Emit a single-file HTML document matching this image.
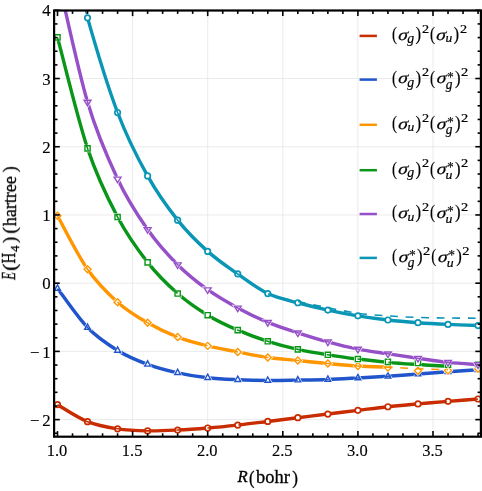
<!DOCTYPE html><html><head><meta charset="utf-8"><style>html,body{margin:0;padding:0;background:#fff}</style></head><body><div style="will-change:transform;width:482px;height:491px"><svg width="482" height="491" viewBox="0 0 482 491" style="display:block"><rect width="482" height="491" fill="#fff"/><defs><clipPath id="cp"><rect x="54.1" y="10.5" width="426.8" height="426.2"/></clipPath><mask id="tm"><rect width="482" height="491" fill="#fff"/></mask></defs><g stroke="#e2e2e2" stroke-width="0.7" fill="none"><line x1="132.60" y1="10.5" x2="132.60" y2="436.7"/><line x1="207.70" y1="10.5" x2="207.70" y2="436.7"/><line x1="282.80" y1="10.5" x2="282.80" y2="436.7"/><line x1="357.90" y1="10.5" x2="357.90" y2="436.7"/><line x1="433.00" y1="10.5" x2="433.00" y2="436.7"/><line x1="54.1" y1="10.30" x2="480.9" y2="10.30"/><line x1="54.1" y1="78.52" x2="480.9" y2="78.52"/><line x1="54.1" y1="146.74" x2="480.9" y2="146.74"/><line x1="54.1" y1="214.96" x2="480.9" y2="214.96"/><line x1="54.1" y1="283.18" x2="480.9" y2="283.18"/><line x1="54.1" y1="351.40" x2="480.9" y2="351.40"/><line x1="54.1" y1="419.62" x2="480.9" y2="419.62"/></g><g clip-path="url(#cp)" fill="none" stroke-linejoin="round"><path d="M57.50 404.68 C62.51 407.51 77.53 417.64 87.54 421.67 C97.55 425.69 107.57 427.29 117.58 428.83 C127.59 430.36 137.61 430.67 147.62 430.88 C157.63 431.08 167.65 430.54 177.66 430.06 C187.67 429.58 197.69 428.84 207.70 428.01 C217.71 427.18 227.73 426.17 237.74 425.08 C247.75 423.99 257.77 422.69 267.78 421.46 C277.79 420.23 287.81 418.95 297.82 417.71 C307.83 416.47 317.85 415.25 327.86 414.03 C337.87 412.80 347.89 411.56 357.90 410.34 C367.91 409.13 377.93 407.80 387.94 406.73 C397.95 405.66 407.97 404.83 417.98 403.93 C427.99 403.03 438.01 402.16 448.02 401.34 C458.03 400.52 473.05 399.40 478.06 399.02" stroke="#c82c00" stroke-width="3.4"/><circle cx="57.50" cy="404.68" r="2.75" fill="#fff" stroke="#c82c00" stroke-width="1.7"/><circle cx="87.54" cy="421.67" r="2.75" fill="#fff" stroke="#c82c00" stroke-width="1.7"/><circle cx="117.58" cy="428.83" r="2.75" fill="#fff" stroke="#c82c00" stroke-width="1.7"/><circle cx="147.62" cy="430.88" r="2.75" fill="#fff" stroke="#c82c00" stroke-width="1.7"/><circle cx="177.66" cy="430.06" r="2.75" fill="#fff" stroke="#c82c00" stroke-width="1.7"/><circle cx="207.70" cy="428.01" r="2.75" fill="#fff" stroke="#c82c00" stroke-width="1.7"/><circle cx="237.74" cy="425.08" r="2.75" fill="#fff" stroke="#c82c00" stroke-width="1.7"/><circle cx="267.78" cy="421.46" r="2.75" fill="#fff" stroke="#c82c00" stroke-width="1.7"/><circle cx="297.82" cy="417.71" r="2.75" fill="#fff" stroke="#c82c00" stroke-width="1.7"/><circle cx="327.86" cy="414.03" r="2.75" fill="#fff" stroke="#c82c00" stroke-width="1.7"/><circle cx="357.90" cy="410.34" r="2.75" fill="#fff" stroke="#c82c00" stroke-width="1.7"/><circle cx="387.94" cy="406.73" r="2.75" fill="#fff" stroke="#c82c00" stroke-width="1.7"/><circle cx="417.98" cy="403.93" r="2.75" fill="#fff" stroke="#c82c00" stroke-width="1.7"/><circle cx="448.02" cy="401.34" r="2.75" fill="#fff" stroke="#c82c00" stroke-width="1.7"/><circle cx="478.06" cy="399.02" r="2.75" fill="#fff" stroke="#c82c00" stroke-width="1.7"/><path d="M57.50 404.68 C62.51 407.51 77.53 417.64 87.54 421.67 C97.55 425.69 107.57 427.29 117.58 428.83 C127.59 430.36 137.61 430.67 147.62 430.88 C157.63 431.08 167.65 430.54 177.66 430.06 C187.67 429.58 197.69 428.84 207.70 428.01 C217.71 427.18 227.73 426.17 237.74 425.08 C247.75 423.99 257.77 422.69 267.78 421.46 C277.79 420.23 287.81 418.95 297.82 417.71 C307.83 416.47 317.85 415.25 327.86 414.03 C337.87 412.80 347.89 411.56 357.90 410.34 C367.91 409.13 377.93 407.80 387.94 406.73 C397.95 405.66 407.97 404.83 417.98 403.93 C427.99 403.03 438.01 402.16 448.02 401.34 C458.03 400.52 473.05 399.40 478.06 399.02" stroke="#c82c00" stroke-width="1.6" stroke-dasharray="7.80 7.75" stroke-dashoffset="0.00"/><path d="M57.50 288.43 C62.51 294.95 77.53 317.19 87.54 327.52 C97.55 337.86 107.57 344.31 117.58 350.44 C127.59 356.58 137.61 360.63 147.62 364.36 C157.63 368.09 167.65 370.59 177.66 372.82 C187.67 375.05 197.69 376.58 207.70 377.73 C217.71 378.88 227.73 379.25 237.74 379.71 C247.75 380.18 257.77 380.46 267.78 380.53 C277.79 380.60 287.81 380.30 297.82 380.12 C307.83 379.94 317.85 379.80 327.86 379.44 C337.87 379.07 347.89 378.47 357.90 377.94 C367.91 377.40 377.93 376.89 387.94 376.23 C397.95 375.57 407.97 374.73 417.98 373.98 C427.99 373.23 438.01 372.45 448.02 371.73 C458.03 371.01 473.05 370.02 478.06 369.68" stroke="#2055cc" stroke-width="3.4"/><polygon points="57.50,284.88 60.40,290.18 54.60,290.18" fill="#fff" stroke="#fff" stroke-width="2.6" stroke-linejoin="miter"/><polygon points="57.50,284.88 60.40,290.18 54.60,290.18" fill="#fff" stroke="#2055cc" stroke-width="1.4" stroke-linejoin="miter"/><polygon points="87.54,323.97 90.44,329.27 84.64,329.27" fill="#fff" stroke="#fff" stroke-width="2.6" stroke-linejoin="miter"/><polygon points="87.54,323.97 90.44,329.27 84.64,329.27" fill="#fff" stroke="#2055cc" stroke-width="1.4" stroke-linejoin="miter"/><polygon points="117.58,346.89 120.48,352.19 114.68,352.19" fill="#fff" stroke="#fff" stroke-width="2.6" stroke-linejoin="miter"/><polygon points="117.58,346.89 120.48,352.19 114.68,352.19" fill="#fff" stroke="#2055cc" stroke-width="1.4" stroke-linejoin="miter"/><polygon points="147.62,360.81 150.52,366.11 144.72,366.11" fill="#fff" stroke="#fff" stroke-width="2.6" stroke-linejoin="miter"/><polygon points="147.62,360.81 150.52,366.11 144.72,366.11" fill="#fff" stroke="#2055cc" stroke-width="1.4" stroke-linejoin="miter"/><polygon points="177.66,369.27 180.56,374.57 174.76,374.57" fill="#fff" stroke="#fff" stroke-width="2.6" stroke-linejoin="miter"/><polygon points="177.66,369.27 180.56,374.57 174.76,374.57" fill="#fff" stroke="#2055cc" stroke-width="1.4" stroke-linejoin="miter"/><polygon points="207.70,374.18 210.60,379.48 204.80,379.48" fill="#fff" stroke="#fff" stroke-width="2.6" stroke-linejoin="miter"/><polygon points="207.70,374.18 210.60,379.48 204.80,379.48" fill="#fff" stroke="#2055cc" stroke-width="1.4" stroke-linejoin="miter"/><polygon points="237.74,376.16 240.64,381.46 234.84,381.46" fill="#fff" stroke="#fff" stroke-width="2.6" stroke-linejoin="miter"/><polygon points="237.74,376.16 240.64,381.46 234.84,381.46" fill="#fff" stroke="#2055cc" stroke-width="1.4" stroke-linejoin="miter"/><polygon points="267.78,376.98 270.68,382.28 264.88,382.28" fill="#fff" stroke="#fff" stroke-width="2.6" stroke-linejoin="miter"/><polygon points="267.78,376.98 270.68,382.28 264.88,382.28" fill="#fff" stroke="#2055cc" stroke-width="1.4" stroke-linejoin="miter"/><polygon points="297.82,376.57 300.72,381.87 294.92,381.87" fill="#fff" stroke="#fff" stroke-width="2.6" stroke-linejoin="miter"/><polygon points="297.82,376.57 300.72,381.87 294.92,381.87" fill="#fff" stroke="#2055cc" stroke-width="1.4" stroke-linejoin="miter"/><polygon points="327.86,375.89 330.76,381.19 324.96,381.19" fill="#fff" stroke="#fff" stroke-width="2.6" stroke-linejoin="miter"/><polygon points="327.86,375.89 330.76,381.19 324.96,381.19" fill="#fff" stroke="#2055cc" stroke-width="1.4" stroke-linejoin="miter"/><polygon points="357.90,374.39 360.80,379.69 355.00,379.69" fill="#fff" stroke="#fff" stroke-width="2.6" stroke-linejoin="miter"/><polygon points="357.90,374.39 360.80,379.69 355.00,379.69" fill="#fff" stroke="#2055cc" stroke-width="1.4" stroke-linejoin="miter"/><polygon points="387.94,372.68 390.84,377.98 385.04,377.98" fill="#fff" stroke="#fff" stroke-width="2.6" stroke-linejoin="miter"/><polygon points="387.94,372.68 390.84,377.98 385.04,377.98" fill="#fff" stroke="#2055cc" stroke-width="1.4" stroke-linejoin="miter"/><polygon points="417.98,370.43 420.88,375.73 415.08,375.73" fill="#fff" stroke="#fff" stroke-width="2.6" stroke-linejoin="miter"/><polygon points="417.98,370.43 420.88,375.73 415.08,375.73" fill="#fff" stroke="#2055cc" stroke-width="1.4" stroke-linejoin="miter"/><polygon points="448.02,368.18 450.92,373.48 445.12,373.48" fill="#fff" stroke="#fff" stroke-width="2.6" stroke-linejoin="miter"/><polygon points="448.02,368.18 450.92,373.48 445.12,373.48" fill="#fff" stroke="#2055cc" stroke-width="1.4" stroke-linejoin="miter"/><polygon points="478.06,366.13 480.96,371.43 475.16,371.43" fill="#fff" stroke="#fff" stroke-width="2.6" stroke-linejoin="miter"/><polygon points="478.06,366.13 480.96,371.43 475.16,371.43" fill="#fff" stroke="#2055cc" stroke-width="1.4" stroke-linejoin="miter"/><path d="M57.50 288.43 C62.51 294.95 77.53 317.19 87.54 327.52 C97.55 337.86 107.57 344.31 117.58 350.44 C127.59 356.58 137.61 360.63 147.62 364.36 C157.63 368.09 167.65 370.59 177.66 372.82 C187.67 375.05 197.69 376.58 207.70 377.73 C217.71 378.88 227.73 379.25 237.74 379.71 C247.75 380.18 257.77 380.46 267.78 380.53 C277.79 380.60 287.81 380.30 297.82 380.12 C307.83 379.94 317.85 379.80 327.86 379.44 C337.87 379.07 347.89 378.47 357.90 377.94 C367.91 377.40 377.93 376.89 387.94 376.23 C397.95 375.57 407.97 374.73 417.98 373.98 C427.99 373.23 438.01 372.45 448.02 371.73 C458.03 371.01 473.05 370.02 478.06 369.68" stroke="#2055cc" stroke-width="1.6" stroke-dasharray="7.80 7.75" stroke-dashoffset="0.00"/><path d="M57.50 215.78 C62.51 224.69 77.53 254.87 87.54 269.26 C97.55 283.66 107.57 293.22 117.58 302.15 C127.59 311.07 137.61 316.99 147.62 322.82 C157.63 328.64 167.65 333.23 177.66 337.07 C187.67 340.92 197.69 343.40 207.70 345.87 C217.71 348.35 227.73 350.01 237.74 351.95 C247.75 353.88 257.77 356.04 267.78 357.47 C277.79 358.90 287.81 359.53 297.82 360.54 C307.83 361.55 317.85 362.62 327.86 363.54 C337.87 364.46 347.89 365.46 357.90 366.07 C367.91 366.67 382.93 366.98 387.94 367.16" stroke="#ff9600" stroke-width="3.4"/><polygon points="57.50,212.28 61.00,215.78 57.50,219.28 54.00,215.78" fill="#fff" stroke="#fff" stroke-width="2.6" stroke-linejoin="miter"/><polygon points="57.50,212.28 61.00,215.78 57.50,219.28 54.00,215.78" fill="#fff" stroke="#ff9600" stroke-width="1.4" stroke-linejoin="miter"/><polygon points="87.54,265.76 91.04,269.26 87.54,272.76 84.04,269.26" fill="#fff" stroke="#fff" stroke-width="2.6" stroke-linejoin="miter"/><polygon points="87.54,265.76 91.04,269.26 87.54,272.76 84.04,269.26" fill="#fff" stroke="#ff9600" stroke-width="1.4" stroke-linejoin="miter"/><polygon points="117.58,298.65 121.08,302.15 117.58,305.65 114.08,302.15" fill="#fff" stroke="#fff" stroke-width="2.6" stroke-linejoin="miter"/><polygon points="117.58,298.65 121.08,302.15 117.58,305.65 114.08,302.15" fill="#fff" stroke="#ff9600" stroke-width="1.4" stroke-linejoin="miter"/><polygon points="147.62,319.32 151.12,322.82 147.62,326.32 144.12,322.82" fill="#fff" stroke="#fff" stroke-width="2.6" stroke-linejoin="miter"/><polygon points="147.62,319.32 151.12,322.82 147.62,326.32 144.12,322.82" fill="#fff" stroke="#ff9600" stroke-width="1.4" stroke-linejoin="miter"/><polygon points="177.66,333.57 181.16,337.07 177.66,340.57 174.16,337.07" fill="#fff" stroke="#fff" stroke-width="2.6" stroke-linejoin="miter"/><polygon points="177.66,333.57 181.16,337.07 177.66,340.57 174.16,337.07" fill="#fff" stroke="#ff9600" stroke-width="1.4" stroke-linejoin="miter"/><polygon points="207.70,342.37 211.20,345.87 207.70,349.37 204.20,345.87" fill="#fff" stroke="#fff" stroke-width="2.6" stroke-linejoin="miter"/><polygon points="207.70,342.37 211.20,345.87 207.70,349.37 204.20,345.87" fill="#fff" stroke="#ff9600" stroke-width="1.4" stroke-linejoin="miter"/><polygon points="237.74,348.45 241.24,351.95 237.74,355.45 234.24,351.95" fill="#fff" stroke="#fff" stroke-width="2.6" stroke-linejoin="miter"/><polygon points="237.74,348.45 241.24,351.95 237.74,355.45 234.24,351.95" fill="#fff" stroke="#ff9600" stroke-width="1.4" stroke-linejoin="miter"/><polygon points="267.78,353.97 271.28,357.47 267.78,360.97 264.28,357.47" fill="#fff" stroke="#fff" stroke-width="2.6" stroke-linejoin="miter"/><polygon points="267.78,353.97 271.28,357.47 267.78,360.97 264.28,357.47" fill="#fff" stroke="#ff9600" stroke-width="1.4" stroke-linejoin="miter"/><polygon points="297.82,357.04 301.32,360.54 297.82,364.04 294.32,360.54" fill="#fff" stroke="#fff" stroke-width="2.6" stroke-linejoin="miter"/><polygon points="297.82,357.04 301.32,360.54 297.82,364.04 294.32,360.54" fill="#fff" stroke="#ff9600" stroke-width="1.4" stroke-linejoin="miter"/><polygon points="327.86,360.04 331.36,363.54 327.86,367.04 324.36,363.54" fill="#fff" stroke="#fff" stroke-width="2.6" stroke-linejoin="miter"/><polygon points="327.86,360.04 331.36,363.54 327.86,367.04 324.36,363.54" fill="#fff" stroke="#ff9600" stroke-width="1.4" stroke-linejoin="miter"/><polygon points="357.90,362.57 361.40,366.07 357.90,369.57 354.40,366.07" fill="#fff" stroke="#fff" stroke-width="2.6" stroke-linejoin="miter"/><polygon points="357.90,362.57 361.40,366.07 357.90,369.57 354.40,366.07" fill="#fff" stroke="#ff9600" stroke-width="1.4" stroke-linejoin="miter"/><polygon points="387.94,363.90 391.44,367.40 387.94,370.90 384.44,367.40" fill="#fff" stroke="#fff" stroke-width="2.6" stroke-linejoin="miter"/><polygon points="387.94,363.90 391.44,367.40 387.94,370.90 384.44,367.40" fill="#fff" stroke="#ff9600" stroke-width="1.4" stroke-linejoin="miter"/><polygon points="417.98,367.21 421.48,370.71 417.98,374.21 414.48,370.71" fill="#fff" stroke="#fff" stroke-width="2.6" stroke-linejoin="miter"/><polygon points="417.98,367.21 421.48,370.71 417.98,374.21 414.48,370.71" fill="#fff" stroke="#ff9600" stroke-width="1.4" stroke-linejoin="miter"/><polygon points="448.02,367.00 451.52,370.50 448.02,374.00 444.52,370.50" fill="#fff" stroke="#fff" stroke-width="2.6" stroke-linejoin="miter"/><polygon points="448.02,367.00 451.52,370.50 448.02,374.00 444.52,370.50" fill="#fff" stroke="#ff9600" stroke-width="1.4" stroke-linejoin="miter"/><polygon points="478.06,365.20 481.56,368.70 478.06,372.20 474.56,368.70" fill="#fff" stroke="#fff" stroke-width="2.6" stroke-linejoin="miter"/><polygon points="478.06,365.20 481.56,368.70 478.06,372.20 474.56,368.70" fill="#fff" stroke="#ff9600" stroke-width="1.4" stroke-linejoin="miter"/><path d="M57.50 215.78 C62.51 224.69 77.53 254.87 87.54 269.26 C97.55 283.66 107.57 293.22 117.58 302.15 C127.59 311.07 137.61 316.99 147.62 322.82 C157.63 328.64 167.65 333.23 177.66 337.07 C187.67 340.92 197.69 343.40 207.70 345.87 C217.71 348.35 227.73 350.01 237.74 351.95 C247.75 353.88 257.77 356.04 267.78 357.47 C277.79 358.90 287.81 359.53 297.82 360.54 C307.83 361.55 317.85 362.62 327.86 363.54 C337.87 364.46 347.89 365.46 357.90 366.07 C367.91 366.67 377.93 366.70 387.94 367.16 C397.95 367.61 407.97 368.35 417.98 368.80 C427.99 369.24 443.01 369.65 448.02 369.82" stroke="#ff9600" stroke-width="1.6" stroke-dasharray="7.80 7.75" stroke-dashoffset="3.05"/><path d="M57.50 37.38 C62.51 55.88 77.53 118.43 87.54 148.38 C97.55 178.33 107.57 198.08 117.58 217.07 C127.59 236.07 137.61 249.63 147.62 262.37 C157.63 275.12 167.65 284.75 177.66 293.55 C187.67 302.35 197.69 309.08 207.70 315.18 C217.71 321.27 227.73 325.76 237.74 330.12 C247.75 334.47 257.77 338.10 267.78 341.30 C277.79 344.51 287.81 347.10 297.82 349.35 C307.83 351.60 317.85 353.20 327.86 354.81 C337.87 356.43 347.89 357.79 357.90 359.04 C367.91 360.29 377.93 361.41 387.94 362.32 C397.95 363.22 407.97 363.84 417.98 364.50 C427.99 365.16 443.01 365.98 448.02 366.27" stroke="#0a9618" stroke-width="3.4"/><polygon points="54.90,34.78 60.10,34.78 60.10,39.98 54.90,39.98" fill="#fff" stroke="#fff" stroke-width="2.6" stroke-linejoin="miter"/><polygon points="54.90,34.78 60.10,34.78 60.10,39.98 54.90,39.98" fill="#fff" stroke="#0a9618" stroke-width="1.4" stroke-linejoin="miter"/><polygon points="84.94,145.78 90.14,145.78 90.14,150.98 84.94,150.98" fill="#fff" stroke="#fff" stroke-width="2.6" stroke-linejoin="miter"/><polygon points="84.94,145.78 90.14,145.78 90.14,150.98 84.94,150.98" fill="#fff" stroke="#0a9618" stroke-width="1.4" stroke-linejoin="miter"/><polygon points="114.98,214.47 120.18,214.47 120.18,219.67 114.98,219.67" fill="#fff" stroke="#fff" stroke-width="2.6" stroke-linejoin="miter"/><polygon points="114.98,214.47 120.18,214.47 120.18,219.67 114.98,219.67" fill="#fff" stroke="#0a9618" stroke-width="1.4" stroke-linejoin="miter"/><polygon points="145.02,259.77 150.22,259.77 150.22,264.97 145.02,264.97" fill="#fff" stroke="#fff" stroke-width="2.6" stroke-linejoin="miter"/><polygon points="145.02,259.77 150.22,259.77 150.22,264.97 145.02,264.97" fill="#fff" stroke="#0a9618" stroke-width="1.4" stroke-linejoin="miter"/><polygon points="175.06,290.95 180.26,290.95 180.26,296.15 175.06,296.15" fill="#fff" stroke="#fff" stroke-width="2.6" stroke-linejoin="miter"/><polygon points="175.06,290.95 180.26,290.95 180.26,296.15 175.06,296.15" fill="#fff" stroke="#0a9618" stroke-width="1.4" stroke-linejoin="miter"/><polygon points="205.10,312.58 210.30,312.58 210.30,317.78 205.10,317.78" fill="#fff" stroke="#fff" stroke-width="2.6" stroke-linejoin="miter"/><polygon points="205.10,312.58 210.30,312.58 210.30,317.78 205.10,317.78" fill="#fff" stroke="#0a9618" stroke-width="1.4" stroke-linejoin="miter"/><polygon points="235.14,327.52 240.34,327.52 240.34,332.72 235.14,332.72" fill="#fff" stroke="#fff" stroke-width="2.6" stroke-linejoin="miter"/><polygon points="235.14,327.52 240.34,327.52 240.34,332.72 235.14,332.72" fill="#fff" stroke="#0a9618" stroke-width="1.4" stroke-linejoin="miter"/><polygon points="265.18,338.70 270.38,338.70 270.38,343.90 265.18,343.90" fill="#fff" stroke="#fff" stroke-width="2.6" stroke-linejoin="miter"/><polygon points="265.18,338.70 270.38,338.70 270.38,343.90 265.18,343.90" fill="#fff" stroke="#0a9618" stroke-width="1.4" stroke-linejoin="miter"/><polygon points="295.22,346.75 300.42,346.75 300.42,351.95 295.22,351.95" fill="#fff" stroke="#fff" stroke-width="2.6" stroke-linejoin="miter"/><polygon points="295.22,346.75 300.42,346.75 300.42,351.95 295.22,351.95" fill="#fff" stroke="#0a9618" stroke-width="1.4" stroke-linejoin="miter"/><polygon points="325.26,352.21 330.46,352.21 330.46,357.41 325.26,357.41" fill="#fff" stroke="#fff" stroke-width="2.6" stroke-linejoin="miter"/><polygon points="325.26,352.21 330.46,352.21 330.46,357.41 325.26,357.41" fill="#fff" stroke="#0a9618" stroke-width="1.4" stroke-linejoin="miter"/><polygon points="355.30,356.44 360.50,356.44 360.50,361.64 355.30,361.64" fill="#fff" stroke="#fff" stroke-width="2.6" stroke-linejoin="miter"/><polygon points="355.30,356.44 360.50,356.44 360.50,361.64 355.30,361.64" fill="#fff" stroke="#0a9618" stroke-width="1.4" stroke-linejoin="miter"/><polygon points="385.34,359.31 390.54,359.31 390.54,364.51 385.34,364.51" fill="#fff" stroke="#fff" stroke-width="2.6" stroke-linejoin="miter"/><polygon points="385.34,359.31 390.54,359.31 390.54,364.51 385.34,364.51" fill="#fff" stroke="#0a9618" stroke-width="1.4" stroke-linejoin="miter"/><polygon points="415.38,360.40 420.58,360.40 420.58,365.60 415.38,365.60" fill="#fff" stroke="#fff" stroke-width="2.6" stroke-linejoin="miter"/><polygon points="415.38,360.40 420.58,360.40 420.58,365.60 415.38,365.60" fill="#fff" stroke="#0a9618" stroke-width="1.4" stroke-linejoin="miter"/><polygon points="445.42,362.00 450.62,362.00 450.62,367.20 445.42,367.20" fill="#fff" stroke="#fff" stroke-width="2.6" stroke-linejoin="miter"/><polygon points="445.42,362.00 450.62,362.00 450.62,367.20 445.42,367.20" fill="#fff" stroke="#0a9618" stroke-width="1.4" stroke-linejoin="miter"/><polygon points="475.46,361.69 480.66,361.69 480.66,366.89 475.46,366.89" fill="#fff" stroke="#fff" stroke-width="2.6" stroke-linejoin="miter"/><polygon points="475.46,361.69 480.66,361.69 480.66,366.89 475.46,366.89" fill="#fff" stroke="#0a9618" stroke-width="1.4" stroke-linejoin="miter"/><path d="M57.50 37.38 C62.51 55.88 77.53 118.43 87.54 148.38 C97.55 178.33 107.57 198.08 117.58 217.07 C127.59 236.07 137.61 249.63 147.62 262.37 C157.63 275.12 167.65 284.75 177.66 293.55 C187.67 302.35 197.69 309.08 207.70 315.18 C217.71 321.27 227.73 325.76 237.74 330.12 C247.75 334.47 257.77 338.10 267.78 341.30 C277.79 344.51 287.81 347.10 297.82 349.35 C307.83 351.60 317.85 353.20 327.86 354.81 C337.87 356.43 347.89 357.79 357.90 359.04 C367.91 360.29 377.93 361.41 387.94 362.32 C397.95 363.22 407.97 363.84 417.98 364.50 C427.99 365.16 443.01 365.98 448.02 366.27" stroke="#0a9618" stroke-width="1.6" stroke-dasharray="7.80 7.75" stroke-dashoffset="0.00"/><path d="M57.50 -24.01 C62.51 -3.00 77.53 68.23 87.54 102.06 C97.55 135.88 107.57 157.70 117.58 178.94 C127.59 200.18 137.61 215.20 147.62 229.49 C157.63 243.78 167.65 254.65 177.66 264.69 C187.67 274.73 197.69 282.52 207.70 289.73 C217.71 296.94 227.73 302.51 237.74 307.94 C247.75 313.38 257.77 318.20 267.78 322.34 C277.79 326.48 287.81 329.52 297.82 332.78 C307.83 336.03 317.85 339.13 327.86 341.85 C337.87 344.57 347.89 347.09 357.90 349.08 C367.91 351.07 377.93 352.26 387.94 353.79 C397.95 355.31 407.97 356.79 417.98 358.22 C427.99 359.65 438.01 361.33 448.02 362.38 C458.03 363.44 473.05 364.20 478.06 364.57" stroke="#9650c8" stroke-width="3.4"/><polygon points="87.54,105.81 90.99,100.21 84.09,100.21" fill="#fff" stroke="#fff" stroke-width="2.6" stroke-linejoin="miter"/><polygon points="87.54,105.81 90.99,100.21 84.09,100.21" fill="#fff" stroke="#9650c8" stroke-width="1.4" stroke-linejoin="miter"/><polygon points="117.58,182.69 121.03,177.09 114.13,177.09" fill="#fff" stroke="#fff" stroke-width="2.6" stroke-linejoin="miter"/><polygon points="117.58,182.69 121.03,177.09 114.13,177.09" fill="#fff" stroke="#9650c8" stroke-width="1.4" stroke-linejoin="miter"/><polygon points="147.62,233.24 151.07,227.64 144.17,227.64" fill="#fff" stroke="#fff" stroke-width="2.6" stroke-linejoin="miter"/><polygon points="147.62,233.24 151.07,227.64 144.17,227.64" fill="#fff" stroke="#9650c8" stroke-width="1.4" stroke-linejoin="miter"/><polygon points="177.66,268.44 181.11,262.84 174.21,262.84" fill="#fff" stroke="#fff" stroke-width="2.6" stroke-linejoin="miter"/><polygon points="177.66,268.44 181.11,262.84 174.21,262.84" fill="#fff" stroke="#9650c8" stroke-width="1.4" stroke-linejoin="miter"/><polygon points="207.70,293.48 211.15,287.88 204.25,287.88" fill="#fff" stroke="#fff" stroke-width="2.6" stroke-linejoin="miter"/><polygon points="207.70,293.48 211.15,287.88 204.25,287.88" fill="#fff" stroke="#9650c8" stroke-width="1.4" stroke-linejoin="miter"/><polygon points="237.74,311.69 241.19,306.09 234.29,306.09" fill="#fff" stroke="#fff" stroke-width="2.6" stroke-linejoin="miter"/><polygon points="237.74,311.69 241.19,306.09 234.29,306.09" fill="#fff" stroke="#9650c8" stroke-width="1.4" stroke-linejoin="miter"/><polygon points="267.78,326.09 271.23,320.49 264.33,320.49" fill="#fff" stroke="#fff" stroke-width="2.6" stroke-linejoin="miter"/><polygon points="267.78,326.09 271.23,320.49 264.33,320.49" fill="#fff" stroke="#9650c8" stroke-width="1.4" stroke-linejoin="miter"/><polygon points="297.82,336.53 301.27,330.93 294.37,330.93" fill="#fff" stroke="#fff" stroke-width="2.6" stroke-linejoin="miter"/><polygon points="297.82,336.53 301.27,330.93 294.37,330.93" fill="#fff" stroke="#9650c8" stroke-width="1.4" stroke-linejoin="miter"/><polygon points="327.86,345.60 331.31,340.00 324.41,340.00" fill="#fff" stroke="#fff" stroke-width="2.6" stroke-linejoin="miter"/><polygon points="327.86,345.60 331.31,340.00 324.41,340.00" fill="#fff" stroke="#9650c8" stroke-width="1.4" stroke-linejoin="miter"/><polygon points="357.90,352.83 361.35,347.23 354.45,347.23" fill="#fff" stroke="#fff" stroke-width="2.6" stroke-linejoin="miter"/><polygon points="357.90,352.83 361.35,347.23 354.45,347.23" fill="#fff" stroke="#9650c8" stroke-width="1.4" stroke-linejoin="miter"/><polygon points="387.94,357.54 391.39,351.94 384.49,351.94" fill="#fff" stroke="#fff" stroke-width="2.6" stroke-linejoin="miter"/><polygon points="387.94,357.54 391.39,351.94 384.49,351.94" fill="#fff" stroke="#9650c8" stroke-width="1.4" stroke-linejoin="miter"/><polygon points="417.98,361.97 421.43,356.37 414.53,356.37" fill="#fff" stroke="#fff" stroke-width="2.6" stroke-linejoin="miter"/><polygon points="417.98,361.97 421.43,356.37 414.53,356.37" fill="#fff" stroke="#9650c8" stroke-width="1.4" stroke-linejoin="miter"/><polygon points="448.02,366.13 451.47,360.53 444.57,360.53" fill="#fff" stroke="#fff" stroke-width="2.6" stroke-linejoin="miter"/><polygon points="448.02,366.13 451.47,360.53 444.57,360.53" fill="#fff" stroke="#9650c8" stroke-width="1.4" stroke-linejoin="miter"/><polygon points="478.06,368.32 481.51,362.72 474.61,362.72" fill="#fff" stroke="#fff" stroke-width="2.6" stroke-linejoin="miter"/><polygon points="478.06,368.32 481.51,362.72 474.61,362.72" fill="#fff" stroke="#9650c8" stroke-width="1.4" stroke-linejoin="miter"/><path d="M57.50 -24.01 C62.51 -3.00 77.53 68.23 87.54 102.06 C97.55 135.88 107.57 157.70 117.58 178.94 C127.59 200.18 137.61 215.20 147.62 229.49 C157.63 243.78 167.65 254.65 177.66 264.69 C187.67 274.73 197.69 282.52 207.70 289.73 C217.71 296.94 227.73 302.51 237.74 307.94 C247.75 313.38 257.77 318.20 267.78 322.34 C277.79 326.48 287.81 329.52 297.82 332.78 C307.83 336.03 317.85 339.13 327.86 341.85 C337.87 344.57 347.89 347.09 357.90 349.08 C367.91 351.07 377.93 352.26 387.94 353.79 C397.95 355.31 407.97 356.79 417.98 358.22 C427.99 359.65 438.01 361.33 448.02 362.38 C458.03 363.44 473.05 364.20 478.06 364.57" stroke="#9650c8" stroke-width="1.6" stroke-dasharray="7.80 7.75" stroke-dashoffset="0.00"/><path d="M87.54 17.87 C97.55 53.13 107.57 86.15 117.58 112.49 C127.59 138.84 137.61 158.00 147.62 175.94 C157.63 193.88 167.65 207.57 177.66 220.14 C187.67 232.72 197.69 242.42 207.70 251.39 C217.71 260.36 227.73 266.94 237.74 273.97 C247.75 281.00 257.77 288.75 267.78 293.55 C277.79 298.35 287.81 300.01 297.82 302.76 C307.83 305.51 317.85 307.88 327.86 310.06 C337.87 312.24 347.89 314.20 357.90 315.86 C367.91 317.52 377.93 318.88 387.94 320.02 C397.95 321.16 407.97 321.95 417.98 322.68 C427.99 323.41 438.01 323.91 448.02 324.38 C458.03 324.86 473.05 325.35 478.06 325.54" stroke="#0a96b4" stroke-width="3.4"/><circle cx="87.54" cy="17.87" r="2.75" fill="#fff" stroke="#0a96b4" stroke-width="1.7"/><circle cx="117.58" cy="112.49" r="2.75" fill="#fff" stroke="#0a96b4" stroke-width="1.7"/><circle cx="147.62" cy="175.94" r="2.75" fill="#fff" stroke="#0a96b4" stroke-width="1.7"/><circle cx="177.66" cy="220.14" r="2.75" fill="#fff" stroke="#0a96b4" stroke-width="1.7"/><circle cx="207.70" cy="251.39" r="2.75" fill="#fff" stroke="#0a96b4" stroke-width="1.7"/><circle cx="237.74" cy="273.97" r="2.75" fill="#fff" stroke="#0a96b4" stroke-width="1.7"/><circle cx="267.78" cy="293.55" r="2.75" fill="#fff" stroke="#0a96b4" stroke-width="1.7"/><circle cx="297.82" cy="302.76" r="2.75" fill="#fff" stroke="#0a96b4" stroke-width="1.7"/><circle cx="327.86" cy="310.06" r="2.75" fill="#fff" stroke="#0a96b4" stroke-width="1.7"/><circle cx="357.90" cy="315.86" r="2.75" fill="#fff" stroke="#0a96b4" stroke-width="1.7"/><circle cx="387.94" cy="320.02" r="2.75" fill="#fff" stroke="#0a96b4" stroke-width="1.7"/><circle cx="417.98" cy="322.68" r="2.75" fill="#fff" stroke="#0a96b4" stroke-width="1.7"/><circle cx="448.02" cy="324.38" r="2.75" fill="#fff" stroke="#0a96b4" stroke-width="1.7"/><circle cx="478.06" cy="325.54" r="2.75" fill="#fff" stroke="#0a96b4" stroke-width="1.7"/><path d="M57.50 -99.06 C62.51 -79.57 77.53 -17.39 87.54 17.87 C97.55 53.13 107.57 86.15 117.58 112.49 C127.59 138.84 137.61 158.00 147.62 175.94 C157.63 193.88 167.65 207.57 177.66 220.14 C187.67 232.72 197.69 242.42 207.70 251.39 C217.71 260.36 227.73 266.94 237.74 273.97 C247.75 281.00 257.77 288.97 267.78 293.55" stroke="#0a96b4" stroke-width="1.6" stroke-dasharray="7.80 7.75" stroke-dashoffset="0.00"/><path d="M267.78 293.55 C277.79 298.13 287.81 299.10 297.82 301.46 C307.83 303.83 317.85 305.77 327.86 307.74 C337.87 309.71 347.89 311.90 357.90 313.27 C367.91 314.63 377.93 315.23 387.94 315.93 C397.95 316.62 407.97 317.09 417.98 317.43 C427.99 317.77 438.01 317.84 448.02 317.97 C458.03 318.11 473.05 318.20 478.06 318.25" stroke="#0a96b4" stroke-width="1.6" stroke-dasharray="7.80 7.75" stroke-dashoffset="15.26"/></g><g stroke="#000" stroke-width="1.6"><line x1="57.50" y1="436.7" x2="57.50" y2="431.1"/><line x1="57.50" y1="10.5" x2="57.50" y2="16.1"/><line x1="72.52" y1="436.7" x2="72.52" y2="433.3"/><line x1="72.52" y1="10.5" x2="72.52" y2="13.9"/><line x1="87.54" y1="436.7" x2="87.54" y2="433.3"/><line x1="87.54" y1="10.5" x2="87.54" y2="13.9"/><line x1="102.56" y1="436.7" x2="102.56" y2="433.3"/><line x1="102.56" y1="10.5" x2="102.56" y2="13.9"/><line x1="117.58" y1="436.7" x2="117.58" y2="433.3"/><line x1="117.58" y1="10.5" x2="117.58" y2="13.9"/><line x1="132.60" y1="436.7" x2="132.60" y2="431.1"/><line x1="132.60" y1="10.5" x2="132.60" y2="16.1"/><line x1="147.62" y1="436.7" x2="147.62" y2="433.3"/><line x1="147.62" y1="10.5" x2="147.62" y2="13.9"/><line x1="162.64" y1="436.7" x2="162.64" y2="433.3"/><line x1="162.64" y1="10.5" x2="162.64" y2="13.9"/><line x1="177.66" y1="436.7" x2="177.66" y2="433.3"/><line x1="177.66" y1="10.5" x2="177.66" y2="13.9"/><line x1="192.68" y1="436.7" x2="192.68" y2="433.3"/><line x1="192.68" y1="10.5" x2="192.68" y2="13.9"/><line x1="207.70" y1="436.7" x2="207.70" y2="431.1"/><line x1="207.70" y1="10.5" x2="207.70" y2="16.1"/><line x1="222.72" y1="436.7" x2="222.72" y2="433.3"/><line x1="222.72" y1="10.5" x2="222.72" y2="13.9"/><line x1="237.74" y1="436.7" x2="237.74" y2="433.3"/><line x1="237.74" y1="10.5" x2="237.74" y2="13.9"/><line x1="252.76" y1="436.7" x2="252.76" y2="433.3"/><line x1="252.76" y1="10.5" x2="252.76" y2="13.9"/><line x1="267.78" y1="436.7" x2="267.78" y2="433.3"/><line x1="267.78" y1="10.5" x2="267.78" y2="13.9"/><line x1="282.80" y1="436.7" x2="282.80" y2="431.1"/><line x1="282.80" y1="10.5" x2="282.80" y2="16.1"/><line x1="297.82" y1="436.7" x2="297.82" y2="433.3"/><line x1="297.82" y1="10.5" x2="297.82" y2="13.9"/><line x1="312.84" y1="436.7" x2="312.84" y2="433.3"/><line x1="312.84" y1="10.5" x2="312.84" y2="13.9"/><line x1="327.86" y1="436.7" x2="327.86" y2="433.3"/><line x1="327.86" y1="10.5" x2="327.86" y2="13.9"/><line x1="342.88" y1="436.7" x2="342.88" y2="433.3"/><line x1="342.88" y1="10.5" x2="342.88" y2="13.9"/><line x1="357.90" y1="436.7" x2="357.90" y2="431.1"/><line x1="357.90" y1="10.5" x2="357.90" y2="16.1"/><line x1="372.92" y1="436.7" x2="372.92" y2="433.3"/><line x1="372.92" y1="10.5" x2="372.92" y2="13.9"/><line x1="387.94" y1="436.7" x2="387.94" y2="433.3"/><line x1="387.94" y1="10.5" x2="387.94" y2="13.9"/><line x1="402.96" y1="436.7" x2="402.96" y2="433.3"/><line x1="402.96" y1="10.5" x2="402.96" y2="13.9"/><line x1="417.98" y1="436.7" x2="417.98" y2="433.3"/><line x1="417.98" y1="10.5" x2="417.98" y2="13.9"/><line x1="433.00" y1="436.7" x2="433.00" y2="431.1"/><line x1="433.00" y1="10.5" x2="433.00" y2="16.1"/><line x1="448.02" y1="436.7" x2="448.02" y2="433.3"/><line x1="448.02" y1="10.5" x2="448.02" y2="13.9"/><line x1="463.04" y1="436.7" x2="463.04" y2="433.3"/><line x1="463.04" y1="10.5" x2="463.04" y2="13.9"/><line x1="478.06" y1="436.7" x2="478.06" y2="433.3"/><line x1="478.06" y1="10.5" x2="478.06" y2="13.9"/><line x1="54.1" y1="10.30" x2="59.8" y2="10.30"/><line x1="480.9" y1="10.30" x2="475.3" y2="10.30"/><line x1="54.1" y1="23.94" x2="57.5" y2="23.94"/><line x1="480.9" y1="23.94" x2="477.6" y2="23.94"/><line x1="54.1" y1="37.59" x2="57.5" y2="37.59"/><line x1="480.9" y1="37.59" x2="477.6" y2="37.59"/><line x1="54.1" y1="51.23" x2="57.5" y2="51.23"/><line x1="480.9" y1="51.23" x2="477.6" y2="51.23"/><line x1="54.1" y1="64.88" x2="57.5" y2="64.88"/><line x1="480.9" y1="64.88" x2="477.6" y2="64.88"/><line x1="54.1" y1="78.52" x2="59.8" y2="78.52"/><line x1="480.9" y1="78.52" x2="475.3" y2="78.52"/><line x1="54.1" y1="92.16" x2="57.5" y2="92.16"/><line x1="480.9" y1="92.16" x2="477.6" y2="92.16"/><line x1="54.1" y1="105.81" x2="57.5" y2="105.81"/><line x1="480.9" y1="105.81" x2="477.6" y2="105.81"/><line x1="54.1" y1="119.45" x2="57.5" y2="119.45"/><line x1="480.9" y1="119.45" x2="477.6" y2="119.45"/><line x1="54.1" y1="133.10" x2="57.5" y2="133.10"/><line x1="480.9" y1="133.10" x2="477.6" y2="133.10"/><line x1="54.1" y1="146.74" x2="59.8" y2="146.74"/><line x1="480.9" y1="146.74" x2="475.3" y2="146.74"/><line x1="54.1" y1="160.38" x2="57.5" y2="160.38"/><line x1="480.9" y1="160.38" x2="477.6" y2="160.38"/><line x1="54.1" y1="174.03" x2="57.5" y2="174.03"/><line x1="480.9" y1="174.03" x2="477.6" y2="174.03"/><line x1="54.1" y1="187.67" x2="57.5" y2="187.67"/><line x1="480.9" y1="187.67" x2="477.6" y2="187.67"/><line x1="54.1" y1="201.32" x2="57.5" y2="201.32"/><line x1="480.9" y1="201.32" x2="477.6" y2="201.32"/><line x1="54.1" y1="214.96" x2="59.8" y2="214.96"/><line x1="480.9" y1="214.96" x2="475.3" y2="214.96"/><line x1="54.1" y1="228.60" x2="57.5" y2="228.60"/><line x1="480.9" y1="228.60" x2="477.6" y2="228.60"/><line x1="54.1" y1="242.25" x2="57.5" y2="242.25"/><line x1="480.9" y1="242.25" x2="477.6" y2="242.25"/><line x1="54.1" y1="255.89" x2="57.5" y2="255.89"/><line x1="480.9" y1="255.89" x2="477.6" y2="255.89"/><line x1="54.1" y1="269.54" x2="57.5" y2="269.54"/><line x1="480.9" y1="269.54" x2="477.6" y2="269.54"/><line x1="54.1" y1="283.18" x2="59.8" y2="283.18"/><line x1="480.9" y1="283.18" x2="475.3" y2="283.18"/><line x1="54.1" y1="296.82" x2="57.5" y2="296.82"/><line x1="480.9" y1="296.82" x2="477.6" y2="296.82"/><line x1="54.1" y1="310.47" x2="57.5" y2="310.47"/><line x1="480.9" y1="310.47" x2="477.6" y2="310.47"/><line x1="54.1" y1="324.11" x2="57.5" y2="324.11"/><line x1="480.9" y1="324.11" x2="477.6" y2="324.11"/><line x1="54.1" y1="337.76" x2="57.5" y2="337.76"/><line x1="480.9" y1="337.76" x2="477.6" y2="337.76"/><line x1="54.1" y1="351.40" x2="59.8" y2="351.40"/><line x1="480.9" y1="351.40" x2="475.3" y2="351.40"/><line x1="54.1" y1="365.04" x2="57.5" y2="365.04"/><line x1="480.9" y1="365.04" x2="477.6" y2="365.04"/><line x1="54.1" y1="378.69" x2="57.5" y2="378.69"/><line x1="480.9" y1="378.69" x2="477.6" y2="378.69"/><line x1="54.1" y1="392.33" x2="57.5" y2="392.33"/><line x1="480.9" y1="392.33" x2="477.6" y2="392.33"/><line x1="54.1" y1="405.98" x2="57.5" y2="405.98"/><line x1="480.9" y1="405.98" x2="477.6" y2="405.98"/><line x1="54.1" y1="419.62" x2="59.8" y2="419.62"/><line x1="480.9" y1="419.62" x2="475.3" y2="419.62"/><line x1="54.1" y1="433.26" x2="57.5" y2="433.26"/><line x1="480.9" y1="433.26" x2="477.6" y2="433.26"/></g><rect x="54.1" y="10.5" width="426.8" height="426.2" fill="none" stroke="#000" stroke-width="2.2"/><g mask="url(#tm)"><g font-family="Liberation Serif, serif" font-size="16.8" fill="#000" stroke="#000" stroke-width="0.15"><text x="57.0" y="455.6" text-anchor="middle" textLength="20.6" lengthAdjust="spacingAndGlyphs">1.0</text><text x="132.1" y="455.6" text-anchor="middle" textLength="20.6" lengthAdjust="spacingAndGlyphs">1.5</text><text x="207.2" y="455.6" text-anchor="middle" textLength="20.6" lengthAdjust="spacingAndGlyphs">2.0</text><text x="282.3" y="455.6" text-anchor="middle" textLength="20.6" lengthAdjust="spacingAndGlyphs">2.5</text><text x="357.4" y="455.6" text-anchor="middle" textLength="20.6" lengthAdjust="spacingAndGlyphs">3.0</text><text x="432.5" y="455.6" text-anchor="middle" textLength="20.6" lengthAdjust="spacingAndGlyphs">3.5</text><text x="50.6" y="16.4" text-anchor="end">4</text><text x="50.6" y="84.6" text-anchor="end">3</text><text x="50.6" y="152.8" text-anchor="end">2</text><text x="50.6" y="221.0" text-anchor="end">1</text><text x="50.6" y="289.2" text-anchor="end">0</text><text x="50.6" y="357.5" text-anchor="end">1</text><text x="30.1" y="357.5">−</text><text x="50.6" y="425.7" text-anchor="end">2</text><text x="30.1" y="425.7">−</text></g><g font-family="Liberation Serif, serif" fill="#000" stroke="#000" stroke-width="0.3"><text transform="translate(237.54,482.45) scale(1.021,1)" font-size="16.34" font-style="italic">R</text><text transform="translate(249.11,483.56) scale(0.872,1)" font-size="19.19">(</text><text x="256.1" y="482.8" font-size="18.4" textLength="33.8" lengthAdjust="spacingAndGlyphs">bohr</text><text transform="translate(292.20,483.56) scale(0.893,1)" font-size="19.19">)</text></g><g transform="translate(0,280.2) rotate(-90)" font-family="Liberation Serif, serif" fill="#000" stroke="#000" stroke-width="0.3"><text transform="translate(0.59,15.25) scale(0.683,1)" font-size="17.87" font-style="italic">E</text><text transform="translate(9.29,15.77) scale(1.111,1)" font-size="19.63">(</text><text transform="translate(16.82,15.25) scale(0.826,1)" font-size="17.87">H</text><text transform="translate(28.30,18.95) scale(0.955,1)" font-size="13.52">4</text><text transform="translate(37.26,15.77) scale(0.932,1)" font-size="19.63">)</text><text transform="translate(46.59,15.77) scale(0.992,1)" font-size="19.63">(</text><text x="54.1" y="15.7" font-size="18.4" textLength="50.0" lengthAdjust="spacingAndGlyphs">hartree</text><text transform="translate(107.99,15.77) scale(0.893,1)" font-size="19.63">)</text></g><line x1="359.6" y1="35.9" x2="376.9" y2="35.9" stroke="#c82c00" stroke-width="2.5"/><g font-family="Liberation Serif, serif" fill="#000" stroke="#000" stroke-width="0.2"><text transform="translate(391.98,40.27) scale(0.774,1)" font-size="19.63">(</text><text transform="translate(397.87,39.79) scale(1.197,1) skewX(-6.0)" font-size="16.37" font-style="italic">σ</text><text transform="translate(407.24,43.04) scale(0.945,1)" font-size="14.63" font-style="italic">g</text><text transform="translate(415.61,40.27) scale(0.853,1)" font-size="19.63">)</text><text transform="translate(421.93,32.65) scale(1.223,1)" font-size="11.63">2</text><text transform="translate(429.98,40.27) scale(0.774,1)" font-size="19.63">(</text><text transform="translate(435.87,39.79) scale(1.197,1) skewX(-6.0)" font-size="16.37" font-style="italic">σ</text><text transform="translate(445.48,42.40) scale(1.027,1)" font-size="13.17" font-style="italic">u</text><text transform="translate(453.61,40.27) scale(0.853,1)" font-size="19.63">)</text><text transform="translate(459.93,32.65) scale(1.223,1)" font-size="11.63">2</text></g><line x1="359.6" y1="79.6" x2="376.9" y2="79.6" stroke="#2055cc" stroke-width="2.5"/><g font-family="Liberation Serif, serif" fill="#000" stroke="#000" stroke-width="0.2"><text transform="translate(391.98,83.97) scale(0.774,1)" font-size="19.63">(</text><text transform="translate(397.87,83.49) scale(1.197,1) skewX(-6.0)" font-size="16.37" font-style="italic">σ</text><text transform="translate(407.24,86.74) scale(0.945,1)" font-size="14.63" font-style="italic">g</text><text transform="translate(415.61,83.97) scale(0.853,1)" font-size="19.63">)</text><text transform="translate(421.93,76.35) scale(1.223,1)" font-size="11.63">2</text><text transform="translate(429.98,83.97) scale(0.774,1)" font-size="19.63">(</text><text transform="translate(436.27,83.49) scale(1.197,1) skewX(-6.0)" font-size="16.37" font-style="italic">σ</text><text transform="translate(447.22,81.66) scale(0.927,1)" font-size="13.91">*</text><text transform="translate(445.64,88.69) scale(0.964,1)" font-size="13.90" font-style="italic">g</text><text transform="translate(455.11,83.97) scale(0.853,1)" font-size="19.63">)</text><text transform="translate(461.11,76.35) scale(1.244,1)" font-size="11.63">2</text></g><line x1="359.6" y1="124.8" x2="376.9" y2="124.8" stroke="#ff9600" stroke-width="2.5"/><g font-family="Liberation Serif, serif" fill="#000" stroke="#000" stroke-width="0.2"><text transform="translate(391.98,129.17) scale(0.774,1)" font-size="19.63">(</text><text transform="translate(397.87,128.69) scale(1.197,1) skewX(-6.0)" font-size="16.37" font-style="italic">σ</text><text transform="translate(407.48,131.30) scale(1.027,1)" font-size="13.17" font-style="italic">u</text><text transform="translate(415.61,129.17) scale(0.853,1)" font-size="19.63">)</text><text transform="translate(421.93,121.55) scale(1.223,1)" font-size="11.63">2</text><text transform="translate(429.98,129.17) scale(0.774,1)" font-size="19.63">(</text><text transform="translate(436.27,128.69) scale(1.197,1) skewX(-6.0)" font-size="16.37" font-style="italic">σ</text><text transform="translate(447.22,126.86) scale(0.927,1)" font-size="13.91">*</text><text transform="translate(445.64,133.89) scale(0.964,1)" font-size="13.90" font-style="italic">g</text><text transform="translate(455.11,129.17) scale(0.853,1)" font-size="19.63">)</text><text transform="translate(461.11,121.55) scale(1.244,1)" font-size="11.63">2</text></g><line x1="359.6" y1="170.2" x2="376.9" y2="170.2" stroke="#0a9618" stroke-width="2.5"/><g font-family="Liberation Serif, serif" fill="#000" stroke="#000" stroke-width="0.2"><text transform="translate(391.98,174.57) scale(0.774,1)" font-size="19.63">(</text><text transform="translate(397.87,174.09) scale(1.197,1) skewX(-6.0)" font-size="16.37" font-style="italic">σ</text><text transform="translate(407.24,177.34) scale(0.945,1)" font-size="14.63" font-style="italic">g</text><text transform="translate(415.61,174.57) scale(0.853,1)" font-size="19.63">)</text><text transform="translate(421.93,166.95) scale(1.223,1)" font-size="11.63">2</text><text transform="translate(429.98,174.57) scale(0.774,1)" font-size="19.63">(</text><text transform="translate(436.27,174.09) scale(1.197,1) skewX(-6.0)" font-size="16.37" font-style="italic">σ</text><text transform="translate(447.22,172.26) scale(0.927,1)" font-size="13.91">*</text><text transform="translate(445.56,179.00) scale(1.045,1)" font-size="13.17" font-style="italic">u</text><text transform="translate(455.11,174.57) scale(0.853,1)" font-size="19.63">)</text><text transform="translate(461.11,166.95) scale(1.244,1)" font-size="11.63">2</text></g><line x1="359.6" y1="214.0" x2="376.9" y2="214.0" stroke="#9650c8" stroke-width="2.5"/><g font-family="Liberation Serif, serif" fill="#000" stroke="#000" stroke-width="0.2"><text transform="translate(391.98,218.37) scale(0.774,1)" font-size="19.63">(</text><text transform="translate(397.87,217.89) scale(1.197,1) skewX(-6.0)" font-size="16.37" font-style="italic">σ</text><text transform="translate(407.48,220.50) scale(1.027,1)" font-size="13.17" font-style="italic">u</text><text transform="translate(415.61,218.37) scale(0.853,1)" font-size="19.63">)</text><text transform="translate(421.93,210.75) scale(1.223,1)" font-size="11.63">2</text><text transform="translate(429.98,218.37) scale(0.774,1)" font-size="19.63">(</text><text transform="translate(436.27,217.89) scale(1.197,1) skewX(-6.0)" font-size="16.37" font-style="italic">σ</text><text transform="translate(447.22,216.06) scale(0.927,1)" font-size="13.91">*</text><text transform="translate(445.56,222.80) scale(1.045,1)" font-size="13.17" font-style="italic">u</text><text transform="translate(455.11,218.37) scale(0.853,1)" font-size="19.63">)</text><text transform="translate(461.11,210.75) scale(1.244,1)" font-size="11.63">2</text></g><line x1="359.6" y1="257.9" x2="376.9" y2="257.9" stroke="#0a96b4" stroke-width="2.5"/><g font-family="Liberation Serif, serif" fill="#000" stroke="#000" stroke-width="0.2"><text transform="translate(391.98,262.27) scale(0.774,1)" font-size="19.63">(</text><text transform="translate(398.27,261.79) scale(1.197,1) skewX(-6.0)" font-size="16.37" font-style="italic">σ</text><text transform="translate(409.22,259.96) scale(0.927,1)" font-size="13.91">*</text><text transform="translate(407.64,266.99) scale(0.964,1)" font-size="13.90" font-style="italic">g</text><text transform="translate(417.11,262.27) scale(0.853,1)" font-size="19.63">)</text><text transform="translate(423.11,254.65) scale(1.244,1)" font-size="11.63">2</text><text transform="translate(431.18,262.27) scale(0.774,1)" font-size="19.63">(</text><text transform="translate(437.47,261.79) scale(1.197,1) skewX(-6.0)" font-size="16.37" font-style="italic">σ</text><text transform="translate(448.42,259.96) scale(0.927,1)" font-size="13.91">*</text><text transform="translate(446.76,266.70) scale(1.045,1)" font-size="13.17" font-style="italic">u</text><text transform="translate(456.31,262.27) scale(0.853,1)" font-size="19.63">)</text><text transform="translate(462.31,254.65) scale(1.244,1)" font-size="11.63">2</text></g></g></svg></div></body></html>
